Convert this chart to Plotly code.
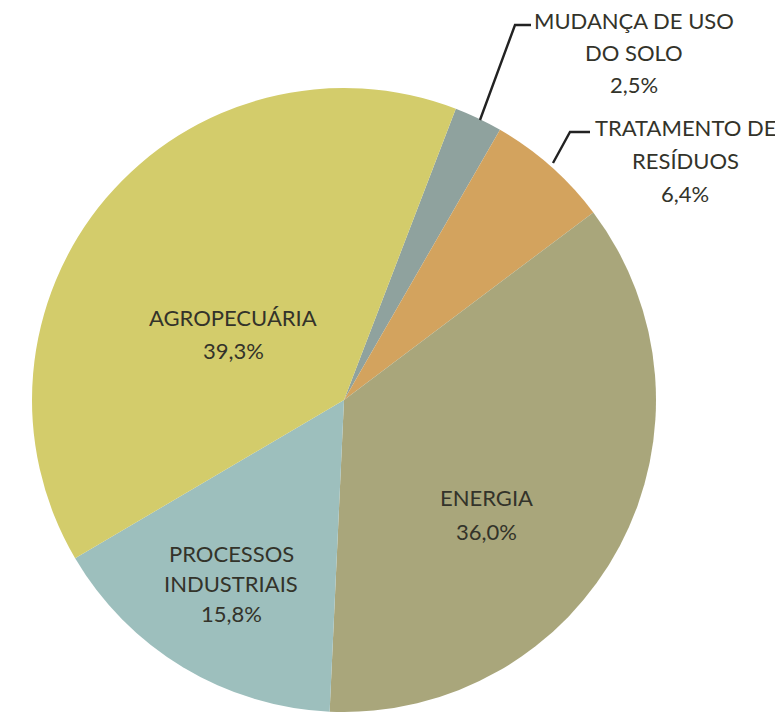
import plotly.graph_objects as go

# Data (clockwise from the top-right slice)
categories = ["MUDANÇA DE USO<br>DO SOLO", "TRATAMENTO DE<br>RESÍDUOS", "ENERGIA",
              "PROCESSOS<br>INDUSTRIAIS", "AGROPECUÁRIA"]
values = [2.5, 6.4, 36.0, 15.8, 39.3]
colors = ["#8FA29E", "#D3A35E", "#A9A67B", "#9DBFBD", "#D3CC6B"]

W, H = 783, 712
OFF = 8  # page body margin offset

def px(x):
    return (x - OFF) / W

def py(y):
    return 1 - (y - OFF) / H

CX, CY, R = 344, 400, 312
fig = go.Figure(go.Pie(
    labels=categories, values=values, sort=False, direction="clockwise",
    rotation=21, marker=dict(colors=colors, line=dict(width=0)),
    textinfo="none", hoverinfo="label+percent", showlegend=False,
    domain=dict(x=[px(CX - R), px(CX + R)], y=[py(CY + R), py(CY - R)]),
))

# label positions (pixel centres) and line spacing
label_pos = {
    0: (634, 21, 32),
    1: (685, 128, 32.5),
    2: (486, 497, 34),
    3: (231, 553, 30),
    4: (233, 317, 34),
}
annotations = []
for i, (cat, val) in enumerate(zip(categories, values)):
    lines = cat.split("<br>") + [f"{val:.1f}%".replace(".", ",")]
    cx, cy, dy = label_pos[i]
    for k, t in enumerate(lines):
        annotations.append(dict(
            text=t, x=px(cx), y=py(cy + k * dy), xref="paper", yref="paper",
            xanchor="center", yanchor="middle", showarrow=False,
            font=dict(family="Lato", size=22, color="#33332a")))

shapes = []
leaders = [
    [(480, 120), (515, 25), (531, 25)],
    [(553, 163), (570, 132), (590, 132)],
]
for pts in leaders:
    path = "M " + " L ".join(f"{px(x)},{py(y)}" for x, y in pts)
    shapes.append(dict(type="path", path=path, xref="paper", yref="paper",
                       line=dict(color="#222222", width=2.4)))

fig.update_layout(
    width=W, height=H, margin=dict(l=0, r=0, t=0, b=0),
    paper_bgcolor="white", plot_bgcolor="white",
    annotations=annotations, shapes=shapes,
)
fig.write_html("out.html")
